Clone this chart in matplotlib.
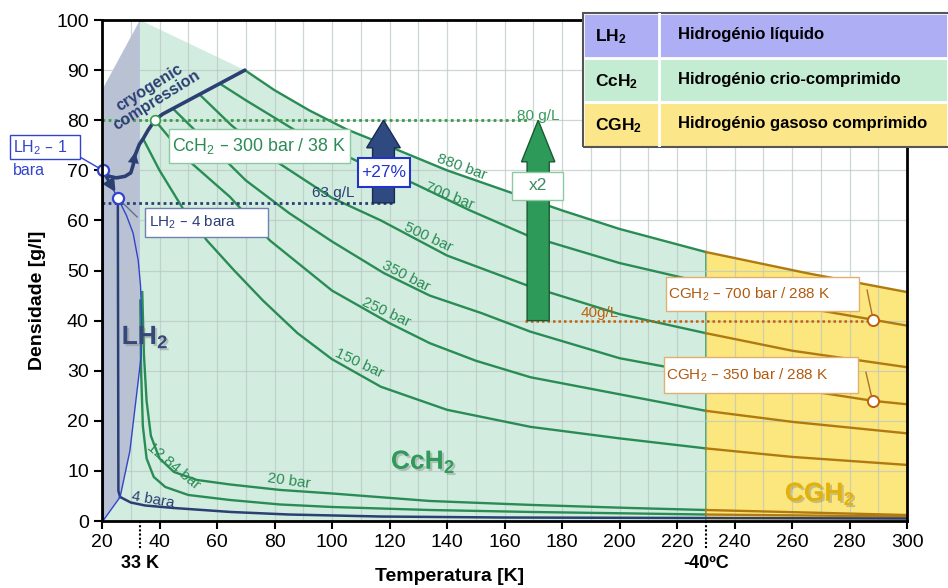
import numpy as np
import matplotlib
matplotlib.use('Agg')
import matplotlib.pyplot as plt
from matplotlib.patches import Rectangle, FancyArrow, Polygon
import matplotlib.patheffects as pe

FONT = ['Liberation Sans', 'DejaVu Sans']
plt.rcParams['font.family'] = FONT
plt.rcParams['mathtext.default'] = 'regular'

# isobars (temperature K, density g/l)
t880 = [69.7, 80, 92, 105, 121, 140, 160, 180, 200, 230, 265, 300]
d880 = [90, 86, 82, 78.2, 74.5, 70, 66, 62, 58.3, 53.7, 49.5, 45.7]
t700 = [61, 70, 90, 110, 128, 148, 168, 200, 230, 270, 288, 300]
d700 = [87.3, 84, 77, 71.5, 67.5, 62, 57, 51.5, 47.5, 42, 40.2, 39]
t500 = [54, 65, 80, 100, 117, 140, 168, 200, 230, 260, 300]
d500 = [85.1, 79, 72, 64.5, 60, 53, 47, 41.3, 37.5, 34, 30.7]
t350 = [44.7, 55, 70, 85, 100, 118, 134, 152, 169, 200, 230, 260, 288, 300]
d350 = [82.3, 76.5, 68, 61.5, 55.8, 49.5, 45, 41.5, 37.8, 32.5, 29.3, 26.5, 24, 23.3]
t250 = [38.4, 50, 64.5, 78.4, 100, 120, 134, 150, 169, 200, 230, 260, 300]
d250 = [80, 72, 64.7, 56, 46, 39.5, 35.5, 32, 28.7, 25.3, 22, 19.8, 17.5]
t150 = [34.3, 40, 48, 56.5, 66, 76, 88, 100, 117, 140, 169, 200, 230, 260, 300]
d150 = [76.3, 70, 62.5, 56, 50, 44, 37.5, 32.3, 26.8, 22.2, 18.8, 16.5, 14.5, 12.8, 11.2]
t20 = [34, 34.6, 35.5, 37, 40, 45, 53, 64.5, 82, 100, 134, 170, 204, 230, 300]
d20 = [45.7, 33, 24, 17, 12.5, 9.8, 8.2, 7.3, 6.2, 5.5, 4, 3.2, 2.6, 2.2, 1.2]
t1284 = [33.3, 33.6, 34.2, 35.5, 38, 42, 50, 64.5, 82, 100, 134, 170, 230, 300]
d1284 = [44, 30, 19, 12.5, 8.8, 6.8, 5.2, 4.2, 3.3, 2.8, 2.2, 1.8, 1.3, 0.9]
t4 = [26.3, 30, 35, 45, 65, 85, 117, 160, 230, 300]
d4 = [4.8, 3.7, 3.1, 2.6, 1.8, 1.3, 0.9, 0.7, 0.6, 0.5]

# saturation dome and LH2 area
sat_t = [20.3, 25.5, 28.5, 30.8, 32.6, 33.4, 33.8, 33.6, 32.5, 29.7, 26.3, 20.3]
sat_d = [70, 64.5, 61, 57.5, 52, 47, 40, 33, 27.5, 14, 4.8, 0]
vap_t = [20.3, 26.3, 29.7, 32.5, 33.6, 33.2]
vap_d = [0, 4.8, 14, 27.5, 33, 40]

# cryogenic compression path
cryo_t = [20.3, 22.5, 25, 28, 30, 30.8, 31.5, 33, 34.3, 36, 38.4, 41, 69.7]
cryo_d = [69.7, 68.8, 68.5, 68.8, 69.5, 71, 73, 75.2, 76.3, 78, 80, 81.2, 90]

t_boundary = 230
t_crit = 33.2

navy = '#2b3f73'
green = '#2a8c55'
gold = '#b07a10'
orange = '#c0600a'
blue = '#3344cc'

fig = plt.figure(figsize=(9.48, 5.88), dpi=100)
ax = fig.add_axes([0.1076, 0.1139, 0.8492, 0.852])
ax.set_xlim(20, 300)
ax.set_ylim(0, 100)

# region fills
green_poly = list(zip(vap_t, vap_d)) + [(t_crit, 100)] + \
    [(t, d) for t, d in zip(t880, d880) if t <= t_boundary] + [(t_boundary, 0)]
ax.add_patch(Polygon(green_poly, closed=True, fc='#d2eddf', ec='none', zorder=0.5))
yellow_poly = [(t_boundary, 0)] + [(t, d) for t, d in zip(t880, d880) if t >= t_boundary] + [(300, 0)]
ax.add_patch(Polygon(yellow_poly, closed=True, fc='#fce77f', ec='none', zorder=0.5))
grey_poly = [(20, 0), (20, 86), (t_crit, 100)] + list(zip(vap_t[::-1], vap_d[::-1]))
ax.add_patch(Polygon(grey_poly, closed=True, fc='#b9c1d5', ec='none', zorder=0.6))
ax.plot([t_boundary, t_boundary], [0, 53.7], color='#3a9a4a', lw=1.2, zorder=2)

# grid
ax.set_xticks(np.arange(20, 301, 20))
ax.set_xticks(np.arange(30, 300, 20), minor=True)
ax.set_yticks(np.arange(0, 101, 10))
ax.grid(True, which='both', color='#b9c6c2', lw=0.9, alpha=0.7, zorder=0.8)
ax.set_axisbelow(False)
for gl in ax.get_xgridlines() + ax.get_ygridlines():
    gl.set_zorder(0.8)
ax.tick_params(axis='x', which='minor', length=0)

# isobars
for tt, dd in [(t880, d880), (t700, d700), (t500, d500), (t350, d350), (t250, d250),
               (t150, d150), (t20, d20), (t1284, d1284)]:
    tt = np.array(tt)
    dd = np.array(dd)
    m = tt <= t_boundary
    ax.plot(tt[m], dd[m], color=green, lw=1.7, zorder=3)
    m = tt >= t_boundary
    ax.plot(tt[m], dd[m], color=gold, lw=1.7, zorder=3)
ax.plot([25.5, 25.7, 26.3], [64.5, 6, 4.8], color=navy, lw=1.8, zorder=3)
ax.plot(t4, d4, color=navy, lw=1.8, zorder=3)
ax.plot(sat_t, sat_d, color=blue, lw=1.0, zorder=3)
ax.plot([20.3, 20.3], [0, 70], color=blue, lw=1.5, zorder=3)

# cryogenic compression
ax.plot(cryo_t, cryo_d, color=navy, lw=2.6, zorder=4, solid_capstyle='round')
ax.annotate('', xy=(31.7, 74.2), xytext=(30.7, 70.8),
            arrowprops=dict(arrowstyle='-|>', mutation_scale=20, color=navy, lw=0), zorder=5)
ax.annotate('', xy=(25.2, 65.2), xytext=(20.6, 69.5),
            arrowprops=dict(arrowstyle='-|>', mutation_scale=16, color=navy, lw=2.2), zorder=5)
ax.text(37.8, 85.2, 'cryogenic\ncompression', rotation=32, ha='center', va='center',
        color=navy, fontsize=11.5, fontweight='bold', linespacing=0.95, zorder=5,
        rotation_mode='anchor')

# reference density lines
ax.plot([20, 168], [80, 80], color='#3a9a4a', lw=2, ls=(0, (1, 1.2)), zorder=4)
ax.plot([20, 122], [63.5, 63.5], color=navy, lw=2, ls=(0, (1, 1.2)), zorder=4)
ax.plot([167, 288], [40, 40], color=orange, lw=1.8, ls=(0, (1, 1.2)), zorder=4)
ax.text(171.7, 80.8, '80 g/L', color='#3a9a5a', fontsize=11, ha='center', va='center', zorder=6)
ax.text(100.3, 65.5, '63 g/L', color=navy, fontsize=11, ha='center', va='center', zorder=6)
ax.text(193, 41.6, '40g/L', color=orange, fontsize=11, ha='center', va='center', zorder=6)

# block arrows
ax.add_patch(FancyArrow(117.9, 63.5, 0, 16.5, width=7.6, head_width=11.7, head_length=5.5,
                        length_includes_head=True, fc='#2f4a80', ec='#1a2a50', lw=1, zorder=5))
ax.add_patch(FancyArrow(171.7, 40, 0, 40, width=7.7, head_width=11.6, head_length=8.3,
                        length_includes_head=True, fc='#2e9a5a', ec='#1a5a30', lw=1, zorder=5))


def box(x0, y0, x1, y1, ec, lw=1.0):
    ax.add_patch(Rectangle((x0, y0), x1 - x0, y1 - y0, fc='white', ec=ec, lw=lw,
                           zorder=7, clip_on=False))


box(-12.0, 72.3, 12.35, 77.0, blue)
ax.text(-10.8, 74.6, 'LH$_2$ – 1', color=blue, fontsize=11.5, va='center', zorder=8, clip_on=False)
ax.text(-11.0, 70.0, 'bara', color=blue, fontsize=11.5, va='center', zorder=8, clip_on=False)
box(35.0, 56.7, 77.7, 62.5, '#7080b0')
ax.text(36.2, 59.6, 'LH$_2$ – 4 bara', color=navy, fontsize=11, va='center', zorder=8)
box(43.3, 71.5, 106.3, 78.2, '#8cc9a2')
ax.text(44.3, 74.8, 'CcH$_2$ – 300 bar / 38 K', color='#2a8c55', fontsize=12.8, va='center', zorder=8)
box(109.0, 66.7, 127.1, 72.5, '#2233cc', lw=1.5)
ax.text(118.0, 69.6, '+27%', color='#2233cc', fontsize=12.5, ha='center', va='center', zorder=8)
box(162.6, 64.1, 180.3, 69.7, '#8cc9a2')
ax.text(171.5, 66.9, 'x2', color='#3a8a60', fontsize=12.5, ha='center', va='center', zorder=8)
box(216.2, 41.9, 283.3, 48.7, '#e0b070')
ax.text(216.9, 45.3, 'CGH$_2$ – 700 bar / 288 K', color='#b05a10', fontsize=11, va='center', zorder=8)
box(215.5, 25.5, 283.0, 32.7, '#e0b070')
ax.text(216.2, 29.1, 'CGH$_2$ – 350 bar / 288 K', color='#b05a10', fontsize=11, va='center', zorder=8)

# leader lines and points
ax.plot([12.35, 20.3], [72.65, 70], color=blue, lw=1, zorder=6, clip_on=False)
ax.plot([26.3, 32.2], [64, 60.7], color='#607090', lw=1, zorder=6)
ax.plot([286.1, 288.2], [46.1, 40.2], color='#b07030', lw=1, zorder=6)
ax.plot([285.7, 288.0], [29.7, 24.0], color='#b07030', lw=1, zorder=6)
ax.plot([20.3, 25.5], [70, 64.5], 'o', ms=8, mfc='white', mec=blue, mew=1.6, zorder=9, clip_on=False)
ax.plot([38.4], [80], 'o', ms=7, mfc='white', mec='#3a9a4a', mew=1.2, zorder=9)
ax.plot([288, 288], [40.2, 24], 'o', ms=8, mfc='white', mec=orange, mew=1.4, zorder=9)

# isobar labels
for txt, x, y, r, c in [('880 bar', 145, 70.7, -20, green), ('700 bar', 140.7, 64.9, -22, green),
                        ('500 bar', 133.4, 56.7, -25, green), ('350 bar', 125.7, 48.9, -27, green),
                        ('250 bar', 118.8, 41.7, -25, green), ('150 bar', 109.4, 31.5, -25, green),
                        ('20 bar', 85, 8.0, -8, green), ('12,84 bar', 44.7, 11, -40, green),
                        ('4 bara', 37.7, 4.2, -10, navy)]:
    ax.text(x, y, txt, rotation=r, color=c, fontsize=11, ha='center', va='center',
            rotation_mode='anchor', zorder=6)

shadow = [pe.withSimplePatchShadow(offset=(1.5, -1.5), shadow_rgbFace='#808080', alpha=0.4)]
ax.text(35, 36.7, 'LH$_2$', color='#34487a', fontsize=19, fontweight='bold', ha='center',
        va='center', zorder=6, path_effects=shadow)
ax.text(131.7, 11.8, 'CcH$_2$', color='#2f9a5a', fontsize=19, fontweight='bold', ha='center',
        va='center', zorder=6, path_effects=shadow)
ax.text(269.7, 5.4, 'CGH$_2$', color='#e2b20a', fontsize=19, fontweight='bold', ha='center',
        va='center', zorder=6, path_effects=shadow)

# axes styling
for s in ax.spines.values():
    s.set_linewidth(2)
    s.set_color('black')
    s.set_zorder(10)
ax.tick_params(axis='both', which='major', direction='out', length=6, width=1.5, labelsize=14)
ax.set_ylabel('Densidade [g/l]', fontsize=14, fontweight='bold')
ax.yaxis.set_label_coords(-0.07, 0.44)
ax.set_xlabel('Temperatura [K]', fontsize=14, fontweight='bold')
ax.xaxis.set_label_coords(0.432, -0.094)

for tx, lab in [(t_crit, '33 K'), (t_boundary, '-40ºC')]:
    ax.plot([tx, tx], [0, -5.5], color='black', lw=1.5, ls=(0, (1, 1)), clip_on=False, zorder=10)
    ax.text(tx, -8.4, lab, fontsize=13, fontweight='bold', ha='center', va='center',
            clip_on=False)

# legend table top right
tab = fig.add_axes([583 / 948, 1 - 147 / 588, 365 / 948, 134 / 588])
tab.set_xlim(0, 1)
tab.set_ylim(0, 3)
tab.axis('off')
row_cols = ['#fce68a', '#c3ecd3', '#aeaef5']
row_keys = ['CGH$_2$', 'CcH$_2$', 'LH$_2$']
row_names = ['Hidrogénio gasoso comprimido', 'Hidrogénio crio-comprimido', 'Hidrogénio líquido']
for i in range(3):
    tab.add_patch(Rectangle((0, i), 1, 1, fc=row_cols[i], ec='white', lw=2))
    tab.text(0.032, i + 0.47, row_keys[i], fontsize=12.5, fontweight='bold', va='center')
    tab.text(0.26, i + 0.52, row_names[i], fontsize=12, fontweight='bold', va='center')
tab.plot([0.208, 0.208], [0, 3], color='white', lw=2)
tab.add_patch(Rectangle((0, 0), 1.2, 3, fc='none', ec='#555555', lw=1.5, clip_on=False))

fig.savefig('out.png', dpi=100)
